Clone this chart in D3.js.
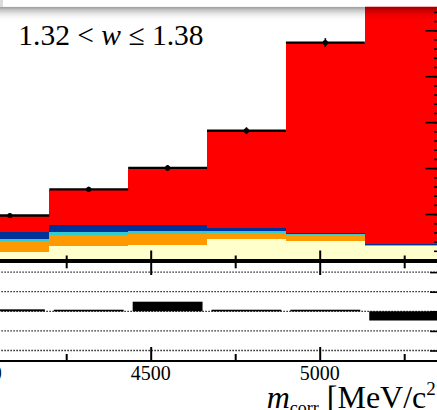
<!DOCTYPE html>
<html>
<head>
<meta charset="utf-8">
<script src="https://cdn.jsdelivr.net/npm/d3@7"></script>
<style>
  html, body { margin: 0; padding: 0; background: #fff; }
  svg { display: block; }
  text { font-family: "Liberation Serif", "Times New Roman", serif; fill: #000; }
</style>
</head>
<body>
<svg id="chart" width="437" height="410"></svg>
<script>
// Corrected-mass bins [MeV/c^2]
const binEdges = [3966.67, 4200, 4433.33, 4666.67, 4900, 5133.33, 5366.67];
// Observed candidates per bin
const dataCounts = [484, 769, 1002, 1407, 2365, 3130];
// Fit components per bin (stacked bottom to top)
const yellowComp = [84, 156, 166, 229, 210, 149];
const orangeComp = [123, 116, 120, 67, 59, 14];
const cyanComp   = [18, 29, 29, 22, 9, 4];
const blueComp   = [82, 83, 65, 34, 13, 7];
const redComp    = [174, 383, 606, 1050, 2071, 2982];
// Pulls (data - fit) / sigma
const pulls = [0.1, 0.08, 0.49, 0.08, 0.08, -0.47];

const componentKeys = ["yellow", "orange", "cyan", "blue", "red"];
const componentColors = ["#ffffcc", "#ff9900", "#33cccc", "#003399", "#ff0000"];
const xMajorTicks = [4000, 4500, 5000];
const xMinorTicks = [4250, 4750, 5250];
const xTickLabels = ["4000", "4500", "5000"];
const yMajorTicks = [0, 500, 1000, 1500, 2000, 2500, 3000, 3500];
const yMinorTicks = d3.range(0, 3600, 100);
const pullLines = [-2, -1, 0, 1, 2];
const titleParts = ["1.32 < ", "w", " \u2264 1.38"];

const svg = d3.select("#chart");

// Scales
const xs = d3.scaleLinear().domain([4500, 5000]).range([150.7, 319.7]);
const ys = d3.scaleLinear().domain([0, 500]).range([260, 214.05]);
const yp = d3.scaleLinear().domain([-2.5, 2.5]).range([360.3, 262.3]);
const xRight = xs(binEdges[binEdges.length - 1]);
const xLeft = xs(binEdges[0]) - 200;

// Stacked fit components
const rows = dataCounts.map((_, i) => ({
  x0: binEdges[i], x1: binEdges[i + 1],
  yellow: yellowComp[i], orange: orangeComp[i], cyan: cyanComp[i],
  blue: blueComp[i], red: redComp[i]
}));
const stacked = d3.stack().keys(componentKeys)(rows);
const color = d3.scaleOrdinal().domain(componentKeys).range(componentColors);

const gStack = svg.append("g");
stacked.forEach(layer => {
  gStack.append("g").attr("fill", color(layer.key))
    .selectAll("rect").data(layer).join("rect")
    .attr("shape-rendering", "crispEdges")
    .attr("x", d => xs(d.data.x0))
    .attr("width", d => xs(d.data.x1) - xs(d.data.x0))
    .attr("y", d => ys(d[1]))
    .attr("height", d => ys(d[0]) - ys(d[1]));
});

// Data points with errors
const gData = svg.append("g");
dataCounts.forEach((n, i) => {
  const cx = xs((binEdges[i] + binEdges[i + 1]) / 2);
  const err = Math.sqrt(n);
  gData.append("line")
    .attr("x1", xs(binEdges[i])).attr("x2", xs(binEdges[i + 1]))
    .attr("y1", ys(n)).attr("y2", ys(n))
    .attr("stroke", "#000").attr("stroke-width", 2.4);
  gData.append("line")
    .attr("x1", cx).attr("x2", cx)
    .attr("y1", ys(n - err)).attr("y2", ys(n + err))
    .attr("stroke", "#000").attr("stroke-width", 1.6);
  gData.append("circle").attr("cx", cx).attr("cy", ys(n)).attr("r", 2.6).attr("fill", "#000");
});

// Main panel right axis ticks
function ticksOnly(axis) {
  return g => { g.call(axis); g.select(".domain").remove(); g.selectAll("text").remove(); };
}
svg.append("g").attr("transform", `translate(${xRight},0)`)
  .call(ticksOnly(d3.axisLeft(ys).tickValues(yMinorTicks).tickSize(9.6)))
  .selectAll("line").attr("stroke-width", 1.6);
svg.append("g").attr("transform", `translate(${xRight},0)`)
  .call(ticksOnly(d3.axisLeft(ys).tickValues(yMajorTicks).tickSize(18.3)))
  .selectAll("line").attr("stroke-width", 1.6);

// Main panel bottom frame and ticks
svg.append("g").attr("transform", "translate(0,260)")
  .call(ticksOnly(d3.axisTop(xs).tickValues(xMinorTicks).tickSize(4.5)))
  .selectAll("line").attr("stroke-width", 2);
svg.append("g").attr("transform", "translate(0,260)")
  .call(ticksOnly(d3.axisTop(xs).tickValues(xMajorTicks).tickSize(9.5)))
  .selectAll("line").attr("stroke-width", 2);
svg.append("line").attr("x1", xLeft).attr("x2", xRight).attr("y1", 260).attr("y2", 260)
  .attr("stroke", "#000").attr("stroke-width", 2);

// Pull panel grid
svg.append("g").selectAll("line").data(pullLines).join("line")
  .attr("x1", xLeft).attr("x2", xRight)
  .attr("y1", d => yp(d)).attr("y2", d => yp(d))
  .attr("stroke", "#000").attr("stroke-width", 1.3).attr("stroke-dasharray", "1.3,1.7");

// Pull bars
svg.append("g").selectAll("rect").data(pulls).join("rect")
  .attr("x", (d, i) => xs(binEdges[i]) + 4.5)
  .attr("width", (d, i) => xs(binEdges[i + 1]) - xs(binEdges[i]) - 9)
  .attr("y", d => Math.min(yp(d), yp(0)))
  .attr("height", d => Math.max(1.6, Math.abs(yp(d) - yp(0))))
  .attr("fill", "#000");

// Pull panel frame and ticks
svg.append("g").attr("transform", "translate(0,262)")
  .call(ticksOnly(d3.axisBottom(xs).tickValues(xMinorTicks).tickSize(6.3)))
  .selectAll("line").attr("stroke-width", 2);
svg.append("g").attr("transform", "translate(0,262)")
  .call(ticksOnly(d3.axisBottom(xs).tickValues(xMajorTicks).tickSize(13)))
  .selectAll("line").attr("stroke-width", 2);
svg.append("g").attr("transform", "translate(0,361)")
  .call(ticksOnly(d3.axisTop(xs).tickValues(xMinorTicks).tickSize(7)))
  .selectAll("line").attr("stroke-width", 2);
svg.append("g").attr("transform", "translate(0,361)")
  .call(ticksOnly(d3.axisTop(xs).tickValues(xMajorTicks).tickSize(14)))
  .selectAll("line").attr("stroke-width", 2);
svg.append("g").attr("transform", `translate(${xRight},0)`)
  .call(ticksOnly(d3.axisLeft(yp).tickValues(pullLines).tickSize(13.6)))
  .selectAll("line").attr("stroke-width", 1.6);
[262, 361].forEach(y => svg.append("line").attr("x1", xLeft).attr("x2", xRight)
  .attr("y1", y).attr("y2", y).attr("stroke", "#000").attr("stroke-width", 2));

// Tick labels
svg.append("g").selectAll("text").data(xMajorTicks).join("text")
  .attr("x", d => xs(d)).attr("y", 380)
  .attr("text-anchor", "middle").attr("font-size", 20)
  .text((d, i) => xTickLabels[i]);

// Axis title
const axTitle = svg.append("text").attr("x", 266.7).attr("y", 407.5).attr("font-size", 32);
axTitle.append("tspan").attr("font-style", "italic").text("m");
axTitle.append("tspan").attr("font-size", 18).attr("dy", 6).text("corr");
axTitle.append("tspan").attr("dy", -6).text(" [MeV/c");
axTitle.append("tspan").attr("font-size", 19).attr("dy", -13).text("2");
axTitle.append("tspan").attr("dy", 13).text("]");

// Bin title
const binTitle = svg.append("text").attr("x", 18.3).attr("y", 45).attr("font-size", 29.5);
binTitle.append("tspan").text(titleParts[0]);
binTitle.append("tspan").attr("font-style", "italic").text(titleParts[1]);
binTitle.append("tspan").text(titleParts[2]);

// Overlaid panel edge with its drop shadow
const defs = svg.append("defs");
const sh = defs.append("linearGradient").attr("id", "shadowDown")
  .attr("x1", 0).attr("x2", 0).attr("y1", 0).attr("y2", 1);
[[0, 0.4], [0.25, 0.22], [0.5, 0.1], [0.75, 0.03], [1, 0]].forEach(([o, a]) =>
  sh.append("stop").attr("offset", o).attr("stop-color", "#000").attr("stop-opacity", a));
svg.append("rect").attr("x", 0).attr("y", 6.7).attr("width", 437).attr("height", 14)
  .attr("fill", "url(#shadowDown)");
svg.append("rect").attr("x", 0).attr("y", 0).attr("width", 3).attr("height", 6.7).attr("fill", "#dcdcdc");
svg.append("rect").attr("x", 3).attr("y", 0).attr("width", 434).attr("height", 6.7).attr("fill", "#fff");
</script>
</body>
</html>
